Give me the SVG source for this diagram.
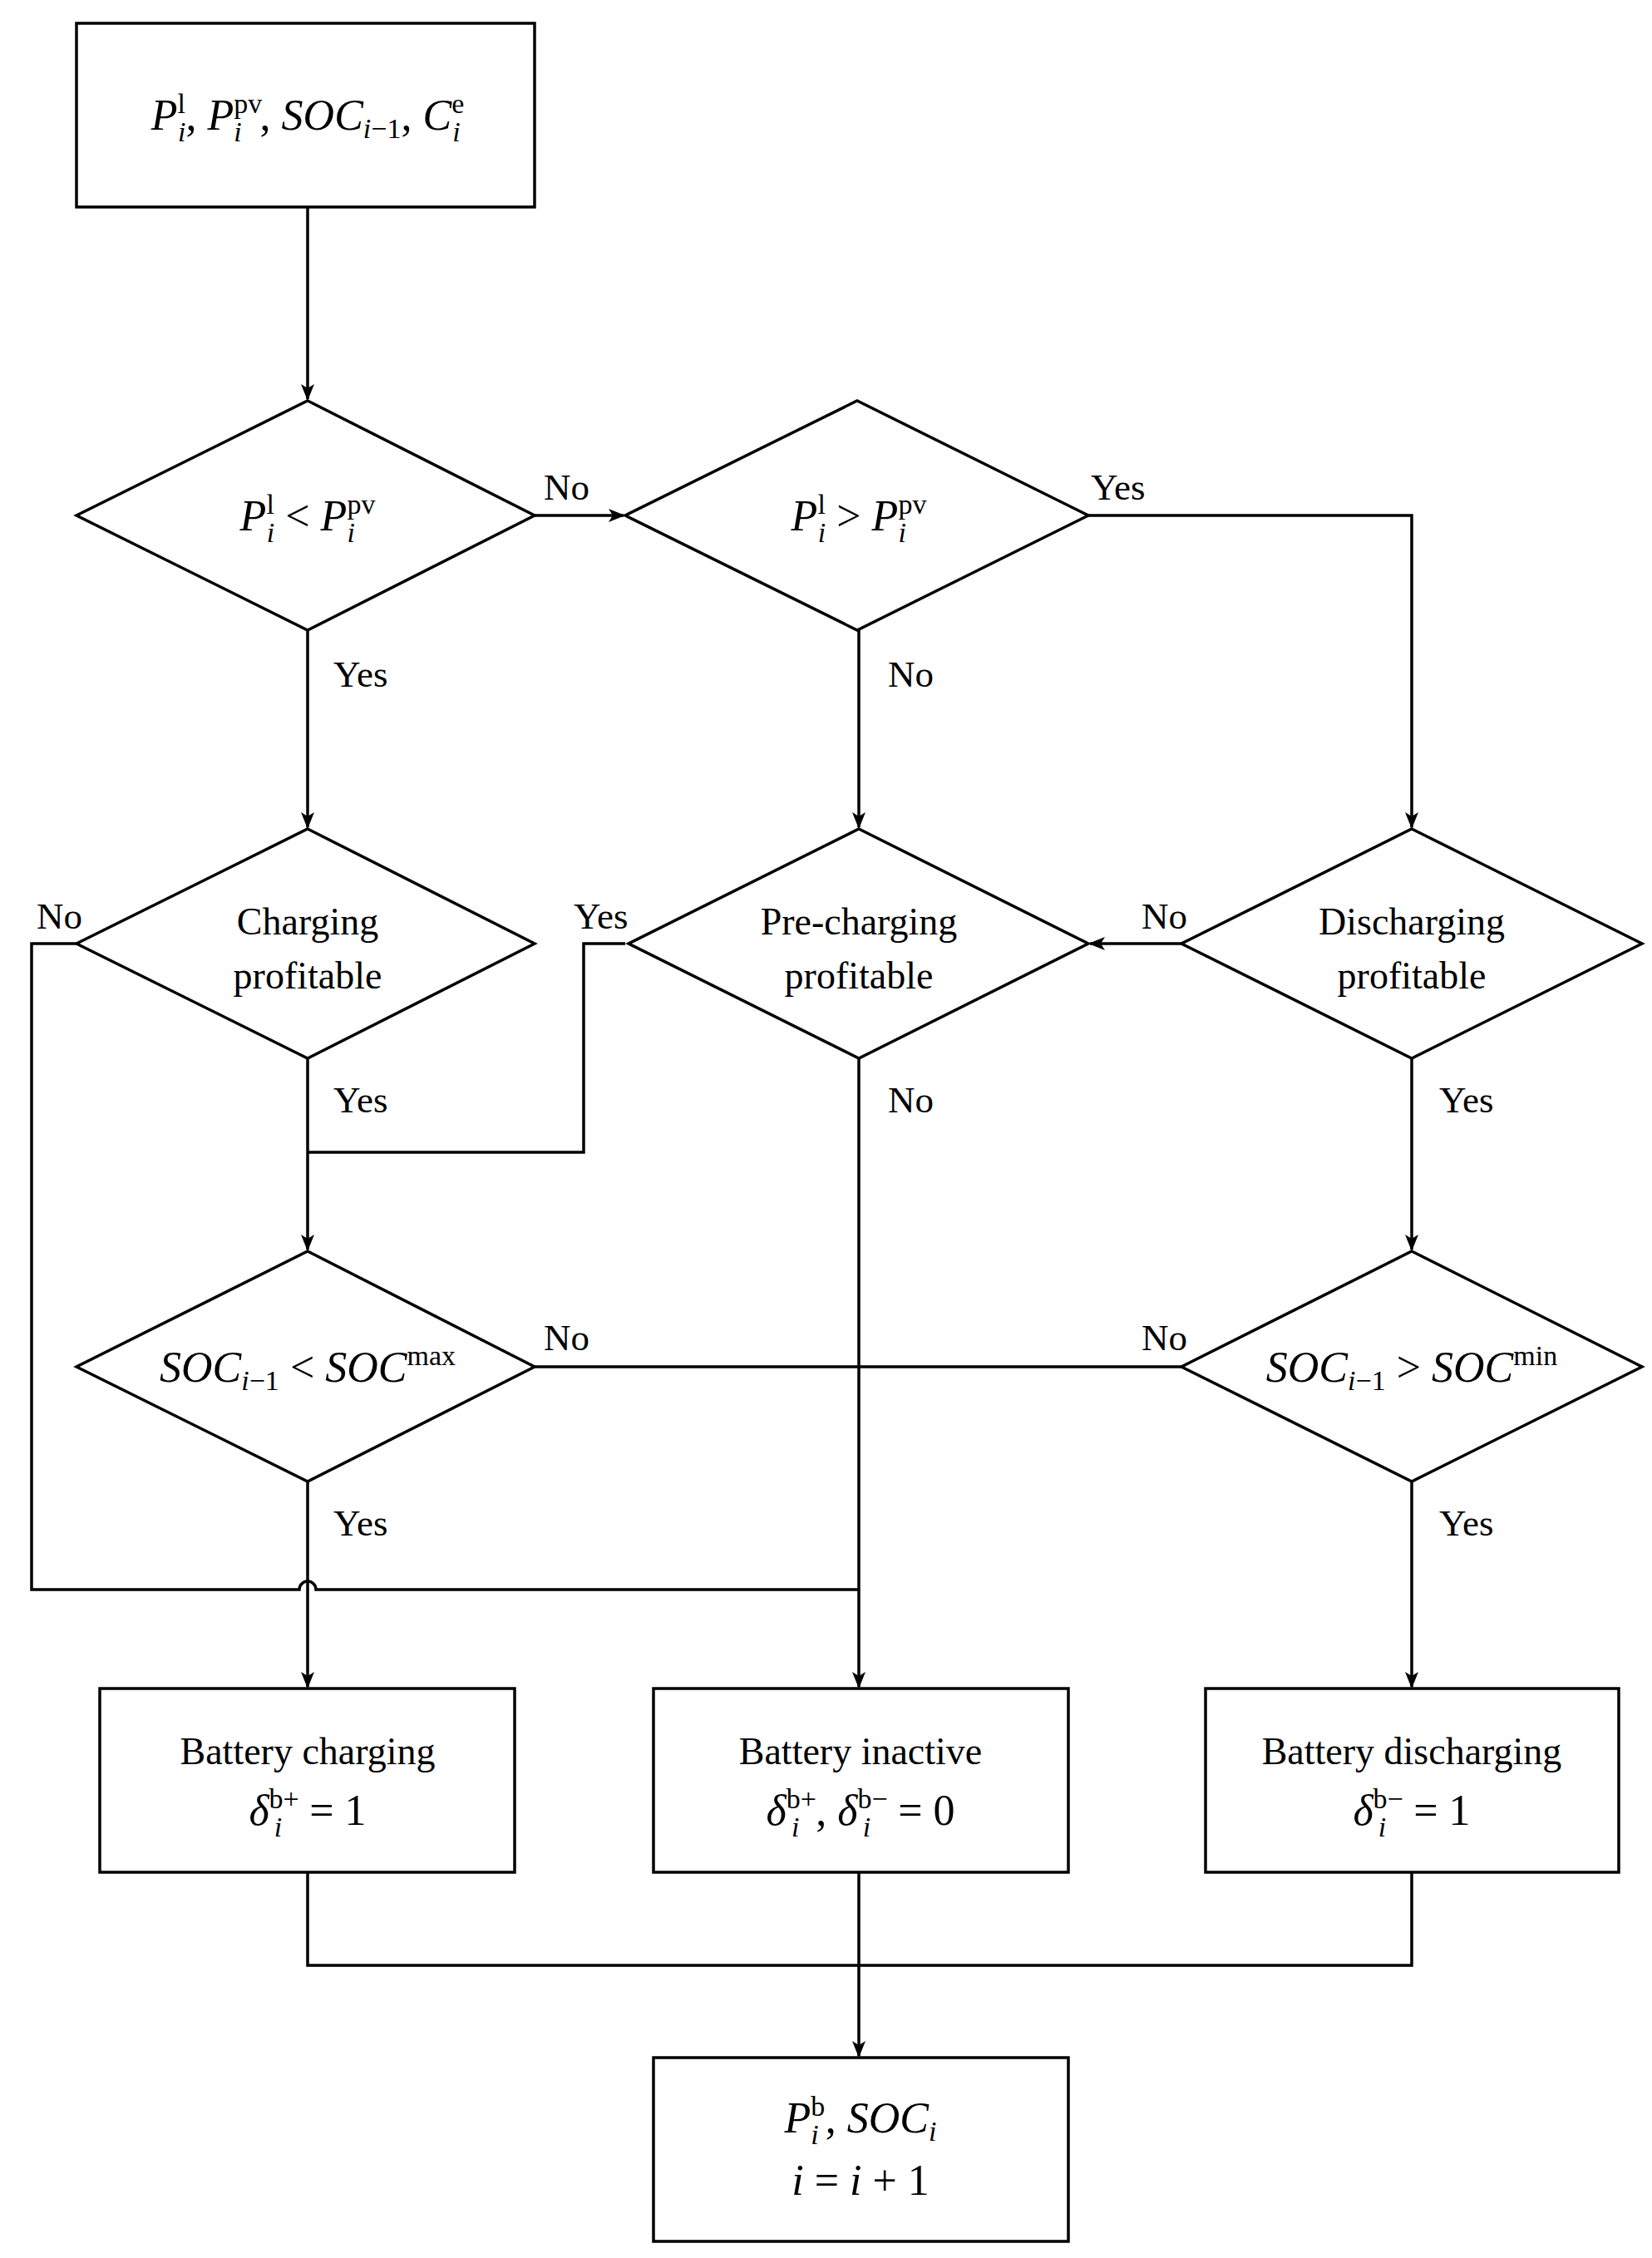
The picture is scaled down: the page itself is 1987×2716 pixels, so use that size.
<svg xmlns="http://www.w3.org/2000/svg" width="1987" height="2716" viewBox="0 0 1987 2716">
<style>
.s{fill:#fff;stroke:#000;stroke-width:3.5}
.c{fill:none;stroke:#000;stroke-width:3.5}
.t{font-family:"Liberation Serif",serif;font-size:46px;fill:#000;text-anchor:middle}
.l{font-family:"Liberation Serif",serif;font-size:45px;fill:#000}
.m{font-family:"Liberation Serif",serif;font-size:52px;fill:#000;text-anchor:middle}
.i{font-style:italic}
.sm{font-size:34px}
</style>
<defs>
<marker id="a" viewBox="0 0 20 20" refX="18" refY="10" markerWidth="20" markerHeight="20" markerUnits="userSpaceOnUse" orient="auto">
<path d="M0,2 L20,10 L0,18 L5,10 Z" fill="#000"/>
</marker>
</defs>
<rect width="1987" height="2716" fill="#fff"/>
<g id="connectors">
<path class="c" d="M370,249 V480" marker-end="url(#a)"/>
<path class="c" d="M643,620 H750" marker-end="url(#a)"/>
<path class="c" d="M370,758 V995" marker-end="url(#a)"/>
<path class="c" d="M1033,758 V995" marker-end="url(#a)"/>
<path class="c" d="M1309,620 H1698 V995" marker-end="url(#a)"/>
<path class="c" d="M1421,1135 H1311" marker-end="url(#a)"/>
<path class="c" d="M370,1273 V1503" marker-end="url(#a)"/>
<path class="c" d="M752,1135 H702 V1386 H370"/>
<path class="c" d="M1698,1273 V1503" marker-end="url(#a)"/>
<path class="c" d="M92,1135 H38 V1912 H360 A10,10 0 0 1 380,1912 H1033"/>
<path class="c" d="M1033,1273 V2029" marker-end="url(#a)"/>
<path class="c" d="M643,1644 H1421"/>
<path class="c" d="M370,1782 V2029" marker-end="url(#a)"/>
<path class="c" d="M1698,1782 V2029" marker-end="url(#a)"/>
<path class="c" d="M370,2252 V2364 H1698 V2252"/>
<path class="c" d="M1033,2252 V2473" marker-end="url(#a)"/>
</g>
<g id="labels" class="l">
<text x="654" y="601">No</text>
<text x="1312" y="601">Yes</text>
<text x="401" y="826">Yes</text>
<text x="1068" y="826">No</text>
<text x="44" y="1117">No</text>
<text x="690" y="1117">Yes</text>
<text x="1373" y="1117">No</text>
<text x="401" y="1338">Yes</text>
<text x="1068" y="1338">No</text>
<text x="1731" y="1338">Yes</text>
<text x="654" y="1624">No</text>
<text x="1373" y="1624">No</text>
<text x="401" y="1847">Yes</text>
<text x="1731" y="1847">Yes</text>
</g>
<g id="start">
<rect class="s" x="92" y="28" width="551" height="221"/>
<text class="m" x="370" y="156"><tspan class="i">P</tspan><tspan class="sm" dy="-20">l</tspan><tspan class="sm i" dx="-9" dy="34">i</tspan><tspan dy="-14">, </tspan><tspan class="i">P</tspan><tspan class="sm" dy="-20">pv</tspan><tspan class="sm i" dx="-34" dy="34">i</tspan><tspan dx="22" dy="-14">, </tspan><tspan class="i">SOC</tspan><tspan class="sm" dy="10"><tspan class="i">i</tspan>−1</tspan><tspan dy="-10">, </tspan><tspan class="i">C</tspan><tspan class="sm" dy="-20">e</tspan><tspan class="sm i" dx="-14" dy="34">i</tspan></text>
</g>
<g id="d1">
<polygon class="s" points="370,482 643,620 370,758 92,620"/>
<text class="m" x="370" y="638"><tspan class="i">P</tspan><tspan class="sm" dy="-20">l</tspan><tspan class="sm i" dx="-9" dy="34">i</tspan><tspan dy="-14"> &lt; </tspan><tspan class="i">P</tspan><tspan class="sm" dy="-20">pv</tspan><tspan class="sm i" dx="-34" dy="34">i</tspan></text>
</g>
<g id="d2">
<polygon class="s" points="1031,482 1309,620 1031,758 752,620"/>
<text class="m" x="1033" y="638"><tspan class="i">P</tspan><tspan class="sm" dy="-20">l</tspan><tspan class="sm i" dx="-9" dy="34">i</tspan><tspan dy="-14"> &gt; </tspan><tspan class="i">P</tspan><tspan class="sm" dy="-20">pv</tspan><tspan class="sm i" dx="-34" dy="34">i</tspan></text>
</g>
<g id="d3">
<polygon class="s" points="370,997 643,1135 370,1273 92,1135"/>
<text class="t" x="370" y="1124">Charging</text>
<text class="t" x="370" y="1189">profitable</text>
</g>
<g id="d4">
<polygon class="s" points="1033,997 1309,1135 1033,1273 756,1135"/>
<text class="t" x="1033" y="1124">Pre-charging</text>
<text class="t" x="1033" y="1189">profitable</text>
</g>
<g id="d5">
<polygon class="s" points="1698,997 1975,1135 1698,1273 1421,1135"/>
<text class="t" x="1698" y="1124">Discharging</text>
<text class="t" x="1698" y="1189">profitable</text>
</g>
<g id="d6">
<polygon class="s" points="370,1505 643,1644 370,1782 92,1644"/>
<text class="m" x="370" y="1662"><tspan class="i">SOC</tspan><tspan class="sm" dy="10"><tspan class="i">i</tspan>−1</tspan><tspan dy="-10"> &lt; </tspan><tspan class="i">SOC</tspan><tspan class="sm" dy="-20">max</tspan></text>
</g>
<g id="d7">
<polygon class="s" points="1698,1505 1975,1644 1698,1782 1421,1644"/>
<text class="m" x="1698" y="1662"><tspan class="i">SOC</tspan><tspan class="sm" dy="10"><tspan class="i">i</tspan>−1</tspan><tspan dy="-10"> &gt; </tspan><tspan class="i">SOC</tspan><tspan class="sm" dy="-20">min</tspan></text>
</g>
<g id="b1">
<rect class="s" x="120" y="2031" width="499" height="221"/>
<text class="t" x="370" y="2122">Battery charging</text>
<text class="m" x="370" y="2195"><tspan class="i">δ</tspan><tspan class="sm" dy="-20">b+</tspan><tspan class="sm i" dx="-30" dy="34">i</tspan><tspan dx="20" dy="-14"> = 1</tspan></text>
</g>
<g id="b2">
<rect class="s" x="786" y="2031" width="499" height="221"/>
<text class="t" x="1035" y="2122">Battery inactive</text>
<text class="m" x="1035" y="2195"><tspan class="i">δ</tspan><tspan class="sm" dy="-20">b+</tspan><tspan class="sm i" dx="-30" dy="34">i</tspan><tspan dx="20" dy="-14">, </tspan><tspan class="i">δ</tspan><tspan class="sm" dy="-20">b−</tspan><tspan class="sm i" dx="-30" dy="34">i</tspan><tspan dx="20" dy="-14"> = 0</tspan></text>
</g>
<g id="b3">
<rect class="s" x="1450" y="2031" width="497" height="221"/>
<text class="t" x="1698" y="2122">Battery discharging</text>
<text class="m" x="1698" y="2195"><tspan class="i">δ</tspan><tspan class="sm" dy="-20">b−</tspan><tspan class="sm i" dx="-30" dy="34">i</tspan><tspan dx="20" dy="-14"> = 1</tspan></text>
</g>
<g id="end">
<rect class="s" x="786" y="2475" width="499" height="221"/>
<text class="m" x="1035" y="2565"><tspan class="i">P</tspan><tspan class="sm" dy="-20">b</tspan><tspan class="sm i" dx="-17" dy="34">i</tspan><tspan dx="8" dy="-14">, </tspan><tspan class="i">SOC</tspan><tspan class="sm i" dy="10">i</tspan></text>
<text class="m" x="1035" y="2640"><tspan class="i">i</tspan> = <tspan class="i">i</tspan> + 1</text>
</g>
</svg>
